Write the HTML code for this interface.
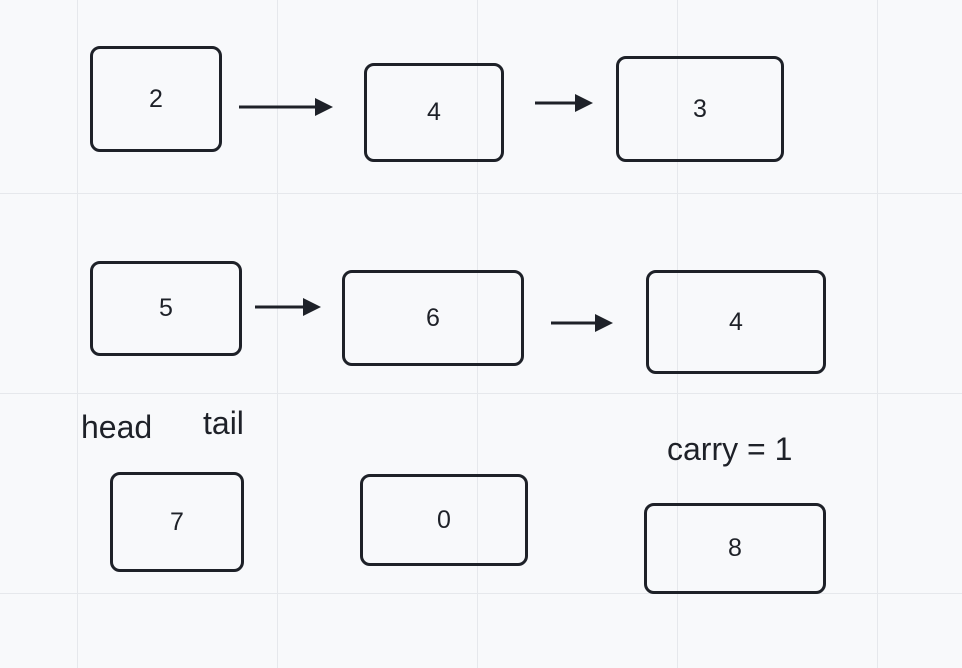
<!DOCTYPE html>
<html><head><meta charset="utf-8"><style>
html,body{margin:0;padding:0}
body{width:962px;height:668px;position:relative;overflow:hidden;background:#f8f9fb;font-family:"Liberation Sans",Arial,sans-serif;color:#1e2128}
.gv{position:absolute;top:0;width:1px;height:668px;background:#e6e8ec}
.gh{position:absolute;left:0;height:1px;width:962px;background:#e6e8ec}
.box{position:absolute;box-sizing:border-box;border:3px solid #1e2128;border-radius:10px;display:flex;align-items:center;justify-content:center;font-size:25px}
.lbl{position:absolute;font-size:32px;line-height:1;white-space:nowrap}
svg{position:absolute;left:0;top:0}
</style></head><body>
<div class="gv" style="left:77px"></div>
<div class="gv" style="left:277px"></div>
<div class="gv" style="left:477px"></div>
<div class="gv" style="left:677px"></div>
<div class="gv" style="left:877px"></div>
<div class="gh" style="top:193px"></div>
<div class="gh" style="top:393px"></div>
<div class="gh" style="top:593px"></div>

<div class="box" style="left:90px;top:46px;width:132px;height:106px">2</div>
<div class="box" style="left:364px;top:63px;width:140px;height:99px">4</div>
<div class="box" style="left:616px;top:56px;width:168px;height:106px">3</div>
<div class="box" style="left:90px;top:261px;width:152px;height:95px">5</div>
<div class="box" style="left:342px;top:270px;width:182px;height:96px">6</div>
<div class="box" style="left:646px;top:270px;width:180px;height:104px">4</div>
<div class="box" style="left:110px;top:472px;width:134px;height:100px">7</div>
<div class="box" style="left:360px;top:474px;width:168px;height:92px">0</div>
<div class="box" style="left:644px;top:503px;width:182px;height:91px">8</div>

<div class="lbl" style="left:81px;top:411px">head</div>
<div class="lbl" style="left:203px;top:407px">tail</div>
<div class="lbl" style="left:667px;top:433px">carry = 1</div>

<svg width="962" height="668">
<g stroke="#1e2128" stroke-width="3" fill="#1e2128">
<line x1="239" y1="107" x2="318" y2="107"/><polygon points="333,107 315,98 315,116" stroke="none"/>
<line x1="535" y1="103" x2="578" y2="103"/><polygon points="593,103 575,94 575,112" stroke="none"/>
<line x1="255" y1="307" x2="306" y2="307"/><polygon points="321,307 303,298 303,316" stroke="none"/>
<line x1="551" y1="323" x2="598" y2="323"/><polygon points="613,323 595,314 595,332" stroke="none"/>
</g></svg>
</body></html>
